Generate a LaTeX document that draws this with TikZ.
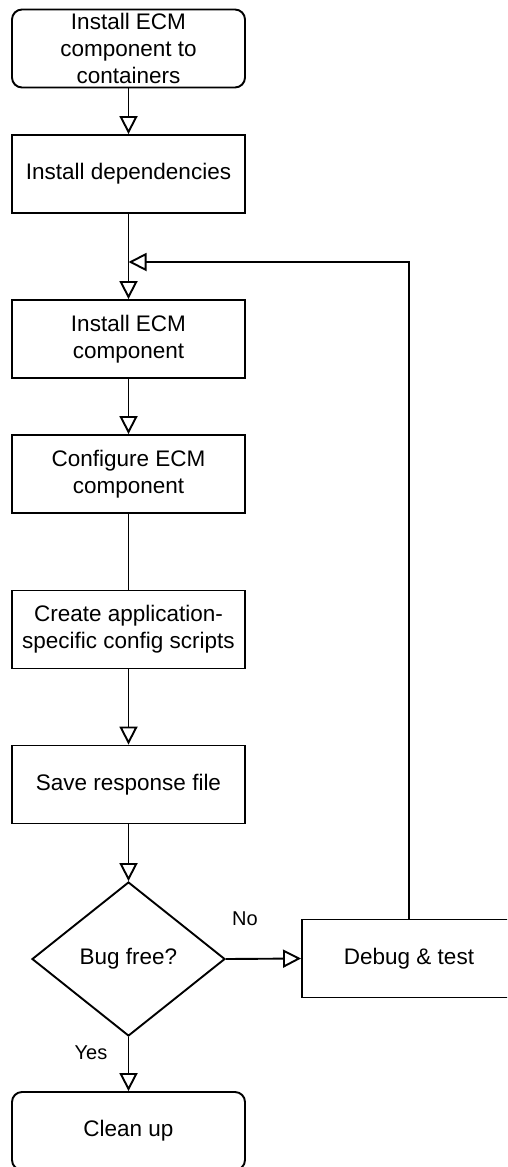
\documentclass[tikz,border=0pt]{standalone}
\usepackage{fontspec}
\setmainfont{Liberation Sans}
\usetikzlibrary{arrows.meta,shapes.geometric}
\begin{document}
\begin{tikzpicture}[x=1pt,y=-1pt,
  box/.style={draw, line width=1.9pt, minimum width=233pt, minimum height=78pt,
    inner sep=0pt, align=center, font=\fontsize{22.5}{27}\selectfont},
  terminal/.style={box, rounded corners=10pt},
  decision/.style={draw, diamond, line width=1.9pt, minimum width=193pt,
    minimum height=154pt, inner sep=0pt, font=\fontsize{22.5}{27}\selectfont},
  flow/.style={line width=1.9pt,
    -{Triangle[open, width=18pt, length=18pt, line width=1.9pt]}},
  link/.style={line width=1.9pt},
  lbl/.style={font=\fontsize{20}{24}\selectfont, inner sep=0pt}]
  \useasboundingbox (0,0) rectangle (507,1167);
  \clip (0,0) rectangle (507,1167);

  % main column
  \node[terminal] (start) at (128.5,48.5) {Install ECM\\component to\\containers};
  \node[box] (deps) at (128.5,174) {Install dependencies};
  \coordinate (merge) at (128.5,262);
  \node[box] (inst) at (128.5,339) {Install ECM\\component};
  \node[box] (conf) at (128.5,474) {Configure ECM\\component};
  \node[box] (scripts) at (128.5,629.5) {Create application-\\specific config scripts};
  \node[box] (save) at (128.5,784.5) {Save response file};
  \node[decision] (check) at (128.5,959) {Bug free?};
  \node[terminal] (clean) at (128.5,1131) {Clean up};

  % side branch
  \node[box, minimum width=214pt] (debug) at (409,958.5) {Debug \& test};

  % connectors
  \draw[flow] (start) -- (deps);
  \draw[flow] (deps) -- (inst);
  \draw[flow] (inst) -- (conf);
  \draw[link] (conf) -- (scripts);
  \draw[flow] (scripts) -- (save);
  \draw[flow] (save) -- (check);
  \draw[flow] (check.east) -- (debug.west);
  \draw[flow] (check.south) -- (clean.north);
  \draw[flow] (debug.north) |- (merge);

  % branch labels
  \node[lbl] (no) at (245,919) {No};
  \node[lbl] (yes) at (91,1053) {Yes};
\end{tikzpicture}
\end{document}
